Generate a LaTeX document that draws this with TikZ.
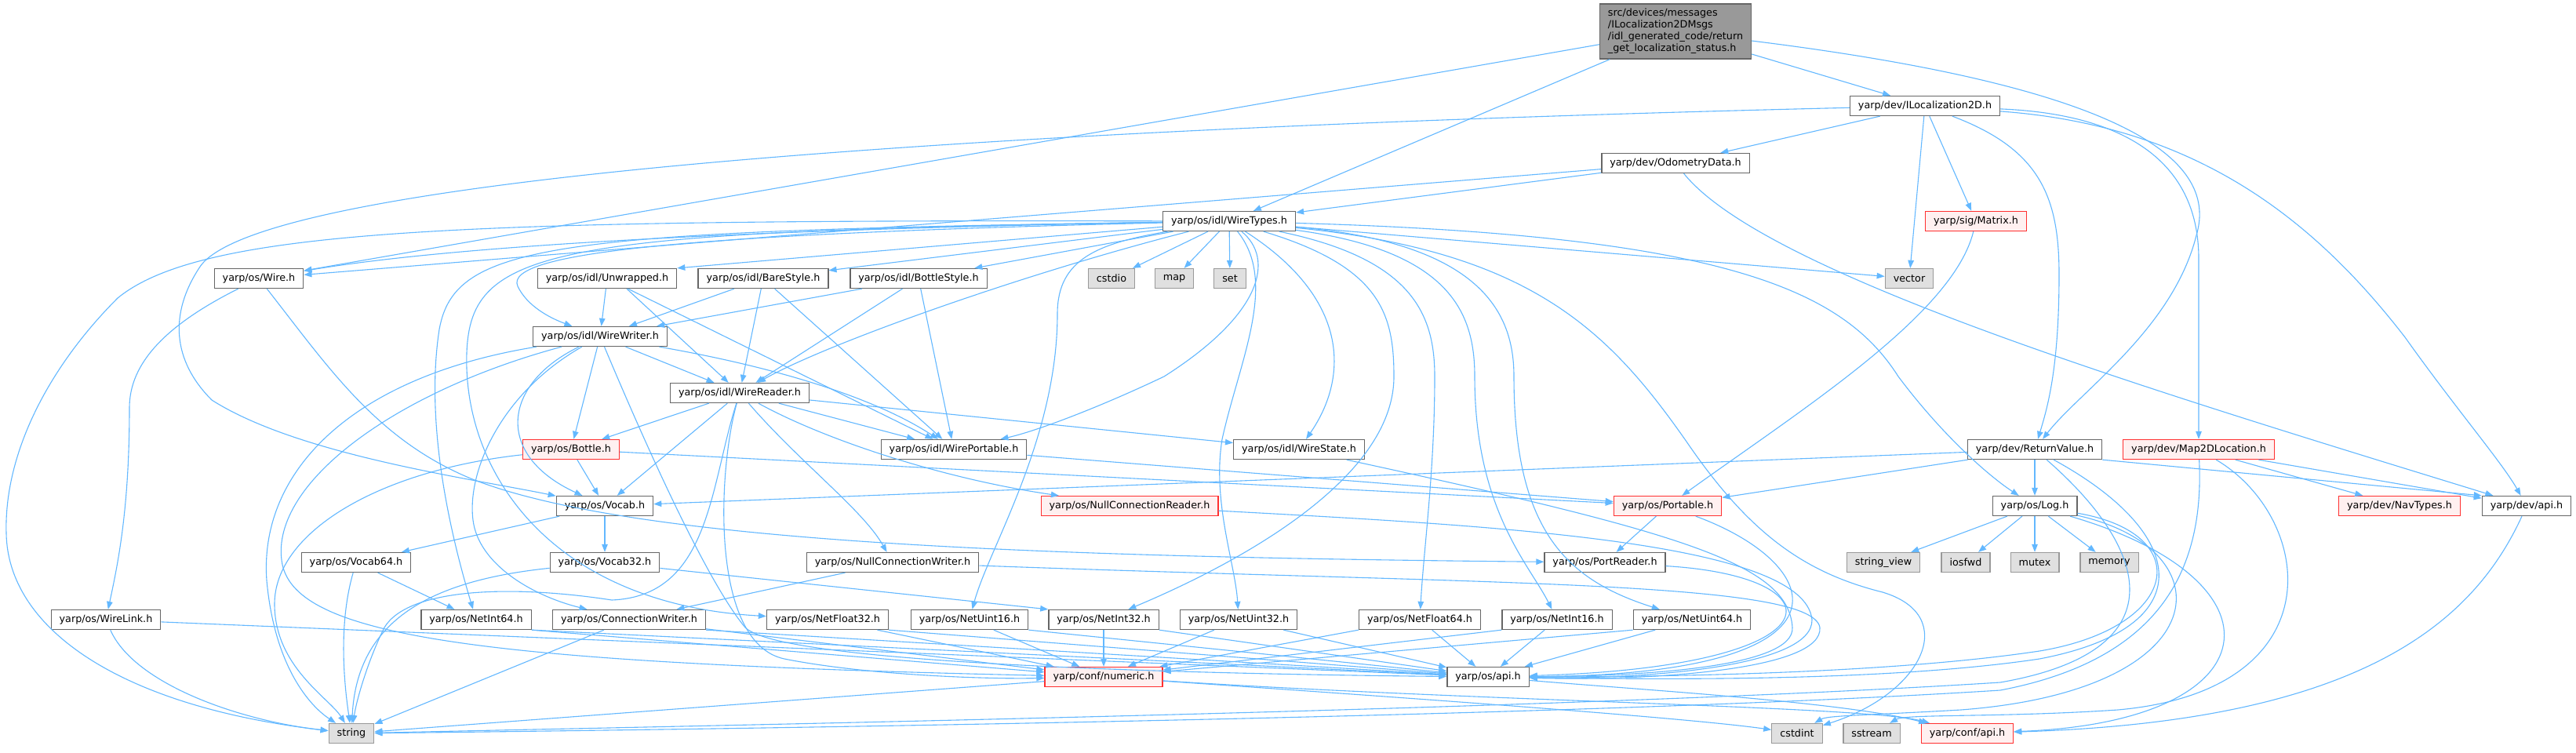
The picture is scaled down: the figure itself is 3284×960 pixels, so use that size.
\documentclass[tikz,border=0pt]{standalone}
\usepackage{fontspec}
\setmainfont{DejaVu Sans}
\usetikzlibrary{arrows.meta,calc}
\definecolor{edgec}{HTML}{63B8FF}
\definecolor{bord}{HTML}{666666}
\definecolor{redb}{HTML}{FF3030}
\definecolor{redf}{HTML}{FFF0F0}
\definecolor{greyf}{HTML}{E0E0E0}
\definecolor{greyb}{HTML}{999999}
\definecolor{rootf}{HTML}{999999}
\newcommand\nodefs{\fontsize{12.75}{15}\selectfont}
\tikzset{
  box/.style={draw=bord, fill=white, line width=1.3pt, minimum height=25pt, inner xsep=10.5pt, inner ysep=0pt, font=\nodefs, text=black},
  redbox/.style={box, draw=redb, fill=redf},
  leaf/.style={box, draw=greyb, fill=greyf},
  rootbox/.style={box, fill=rootf, align=left, minimum height=70pt},
  e/.style={draw=edgec, line width=1.1pt, -{Triangle[length=10pt,width=7.5pt]}}
}
\begin{document}
\begin{tikzpicture}[x=1pt,y=1pt]
\useasboundingbox[fill=white] (0,0) rectangle (3284,-960);
% nodes
\node[rootbox] (R) at (2136,-40) {src/devices/messages\\/ILocalization2DMsgs\\/idl\_generated\_code/return\\\_get\_localization\_status.h};
\node[box] (ILoc) at (2454,-135) {yarp/dev/ILocalization2D.h};
\node[box] (Odo) at (2136,-208) {yarp/dev/OdometryData.h};
\node[box] (WT) at (1567,-282) {yarp/os/idl/WireTypes.h};
\node[redbox] (Matrix) at (2519,-282) {yarp/sig/Matrix.h};
\node[box] (Wire) at (330,-355) {yarp/os/Wire.h};
\node[box] (Unwr) at (774,-355) {yarp/os/idl/Unwrapped.h};
\node[box] (Bare) at (973,-355) {yarp/os/idl/BareStyle.h};
\node[box] (BotS) at (1171,-355) {yarp/os/idl/BottleStyle.h};
\node[leaf] (cstdio) at (1417,-355) {cstdio};
\node[leaf] (map) at (1497,-355) {map};
\node[leaf] (set) at (1568,-355) {set};
\node[leaf] (vector) at (2434,-355) {vector};
\node[box] (WW) at (765,-429) {yarp/os/idl/WireWriter.h};
\node[box] (WR) at (943,-501) {yarp/os/idl/WireReader.h};
\node[redbox] (Bottle) at (728,-573) {yarp/os/Bottle.h};
\node[box] (WP) at (1216,-573) {yarp/os/idl/WirePortable.h};
\node[box] (WS) at (1656,-573) {yarp/os/idl/WireState.h};
\node[box] (RV) at (2594,-573) {yarp/dev/ReturnValue.h};
\node[redbox] (Map2D) at (2803,-573) {yarp/dev/Map2DLocation.h};
\node[box] (Vocab) at (771,-645) {yarp/os/Vocab.h};
\node[redbox] (NCR) at (1440,-645) {yarp/os/NullConnectionReader.h};
\node[redbox] (Portable) at (2126,-645) {yarp/os/Portable.h};
\node[box] (Log) at (2594,-645) {yarp/os/Log.h};
\node[redbox] (NavT) at (3059,-645) {yarp/dev/NavTypes.h};
\node[box] (devapi) at (3221,-645) {yarp/dev/api.h};
\node[box] (Voc64) at (454,-717) {yarp/os/Vocab64.h};
\node[box] (Voc32) at (771,-717) {yarp/os/Vocab32.h};
\node[box] (NCW) at (1138,-717) {yarp/os/NullConnectionWriter.h};
\node[box] (PortReader) at (2046,-717) {yarp/os/PortReader.h};
\node[leaf] (strview) at (2401,-717) {string\_view};
\node[leaf] (iosfwd) at (2506,-717) {iosfwd};
\node[leaf] (mutex) at (2594,-717) {mutex};
\node[leaf] (memory) at (2689,-717) {memory};
\node[box] (WireLink) at (135,-790) {yarp/os/WireLink.h};
\node[box] (NI64) at (607,-790) {yarp/os/NetInt64.h};
\node[box] (CW) at (802,-790) {yarp/os/ConnectionWriter.h};
\node[box] (NF32) at (1055,-790) {yarp/os/NetFloat32.h};
\node[box] (NU16) at (1236,-790) {yarp/os/NetUint16.h};
\node[box] (NI32) at (1407,-790) {yarp/os/NetInt32.h};
\node[box] (NU32) at (1579,-790) {yarp/os/NetUint32.h};
\node[box] (NF64) at (1810,-790) {yarp/os/NetFloat64.h};
\node[box] (NI16) at (1985,-790) {yarp/os/NetInt16.h};
\node[box] (NU64) at (2157,-790) {yarp/os/NetUint64.h};
\node[redbox] (numeric) at (1407,-863) {yarp/conf/numeric.h};
\node[box] (osapi) at (1897,-863) {yarp/os/api.h};
\node[leaf] (string) at (448,-935) {string};
\node[leaf] (cstdint) at (2291,-935) {cstdint};
\node[leaf] (sstream) at (2386,-935) {sstream};
\node[redbox] (confapi) at (2508,-935) {yarp/conf/api.h};
% edges: root
\draw[e] (R) -- (Wire);
\draw[e] (R) -- (WT);
\draw[e] (R) -- (ILoc);
\draw[e] (R) .. controls (2700,-110) and (2830,-200) .. (2800,-300) .. controls (2770,-420) and (2650,-500) .. (RV);
% ILocalization2D
\draw[e] (ILoc) .. controls (1200,-165) and (330,-230) .. (255,-340) .. controls (215,-400) and (220,-460) .. (270,-510) .. controls (380,-580) and (600,-610) .. (Vocab);
\draw[e] (ILoc) -- (Odo);
\draw[e] (ILoc) -- (vector);
\draw[e] (ILoc) -- (Matrix);
\draw[e] (ILoc) .. controls (2600,-190) and (2625,-250) .. (2625,-350) .. controls (2625,-470) and (2610,-520) .. (RV);
\draw[e] (ILoc) .. controls (2700,-145) and (2803,-200) .. (2803,-330) -- (Map2D);
\draw[e] (ILoc) .. controls (2800,-160) and (2950,-280) .. (3066,-430) .. controls (3130,-520) and (3190,-590) .. (devapi);
% OdometryData
\draw[e] (Odo) -- (WT);
\draw[e] (Odo) -- (Wire);
\draw[e] (Odo) .. controls (2250,-350) and (2750,-500) .. (devapi);
% WireTypes
\draw[e] (WT) .. controls (1000,-292) and (600,-310) .. (Wire);
\draw[e] (WT) -- (Unwr.north east);
\draw[e] (WT) -- (Bare);
\draw[e] (WT) -- (BotS);
\draw[e] (WT) .. controls (900,-298) and (640,-320) .. (660,-365) .. controls (672,-390) and (700,-405) .. (WW);
\draw[e] (WT) .. controls (1300,-350) and (1050,-440) .. (WR);
\draw[e] (WT) .. controls (1625,-330) and (1610,-400) .. (1484,-480) .. controls (1400,-520) and (1320,-550) .. (WP);
\draw[e] (WT) .. controls (1720,-380) and (1720,-480) .. (WS);
\draw[e] (WT) -- (cstdio);
\draw[e] (WT) -- (map);
\draw[e] (WT) -- (set);
\draw[e] (WT) -- (vector);
\draw[e] (WT) .. controls (2200,-300) and (2350,-370) .. (2420,-480) .. controls (2480,-560) and (2540,-610) .. (Log);
\draw[e] (WT) .. controls (600,-280) and (260,-290) .. (150,-380) .. controls (60,-470) and (5,-580) .. (8,-680) .. controls (10,-800) and (150,-900) .. (string);
\draw[e] (WT) .. controls (700,-295) and (580,-310) .. (560,-420) .. controls (540,-550) and (580,-700) .. (NI64);
\draw[e] (WT) .. controls (700,-296) and (600,-315) .. (595,-450) .. controls (590,-600) and (700,-770) .. (NF32);
\draw[e] (WT) .. controls (1400,-310) and (1348,-330) .. (1348,-400) .. controls (1348,-560) and (1260,-700) .. (NU16);
\draw[e] (WT) .. controls (1630,-360) and (1580,-460) .. (1558,-560) .. controls (1545,-640) and (1575,-720) .. (NU32);
\draw[e] (WT) .. controls (1760,-340) and (1777,-400) .. (1777,-480) .. controls (1777,-620) and (1550,-730) .. (NI32);
\draw[e] (WT) .. controls (1800,-330) and (1829,-400) .. (1829,-480) .. controls (1829,-600) and (1815,-700) .. (NF64);
\draw[e] (WT) .. controls (1850,-320) and (1880,-400) .. (1880,-480) .. controls (1880,-650) and (1950,-720) .. (NI16);
\draw[e] (WT) .. controls (1890,-310) and (1930,-400) .. (1930,-480) .. controls (1930,-680) and (2000,-740) .. (NU64);
\draw[e] (WT) .. controls (1950,-320) and (2050,-420) .. (2150,-563) .. controls (2230,-680) and (2300,-730) .. (2400,-755) .. controls (2500,-785) and (2450,-885) .. (cstdint);
% Wire
\draw[e] (Wire) .. controls (200,-420) and (165,-470) .. (165,-520) .. controls (165,-650) and (150,-720) .. (WireLink);
\draw[e] (Wire) .. controls (420,-470) and (480,-560) .. (600,-610) .. controls (800,-690) and (1300,-710) .. (PortReader);
% Unwrapped, BareStyle, BottleStyle
\draw[e] (Unwr) -- (WW);
\draw[e] ($(Unwr.south)+(25,0)$) -- (WR);
\draw[e] (Unwr) -- (WP);
\draw[e] (Bare) -- (WW);
\draw[e] (Bare) -- (WR);
\draw[e] (Bare) -- (WP);
\draw[e] (BotS) -- (WW);
\draw[e] (BotS) -- (WR);
\draw[e] (BotS) -- (WP);
% WireWriter
\draw[e] (WW) -- (Bottle);
\draw[e] (WW) -- (WR);
\draw[e] (WW) .. controls (1000,-470) and (1120,-510) .. (WP);
\draw[e] (WW) .. controls (640,-490) and (630,-580) .. (Vocab);
\draw[e] (WW) .. controls (450,-480) and (330,-600) .. (340,-740) .. controls (350,-850) and (395,-900) .. (string);
\draw[e] (WW) .. controls (500,-500) and (340,-620) .. (360,-720) .. controls (380,-810) and (600,-845) .. (numeric);
\draw[e] (WW) .. controls (640,-500) and (595,-600) .. (603,-663) .. controls (610,-720) and (680,-760) .. (CW);
\draw[e] (WW) .. controls (820,-560) and (900,-740) .. (950,-800) .. controls (1000,-850) and (1600,-860) .. (osapi);
% WireReader
\draw[e] (WR) -- (Bottle);
\draw[e] (WR) -- (Vocab);
\draw[e] (WR) -- (WP);
\draw[e] (WR) -- (WS);
\draw[e] (WR) .. controls (1050,-560) and (1200,-610) .. (NCR);
\draw[e] (WR) .. controls (1020,-590) and (1100,-650) .. (NCW);
\draw[e] (WR) .. controls (905,-620) and (905,-760) .. (780,-765) .. controls (650,-745) and (520,-750) .. (490,-800) .. controls (470,-840) and (455,-890) .. (string);
\draw[e] (WR) .. controls (915,-600) and (905,-820) .. (1000,-840) .. controls (1100,-860) and (1250,-866) .. (numeric);
% Bottle
\draw[e] (Bottle) -- (Vocab);
\draw[e] (Bottle) .. controls (480,-600) and (350,-680) .. (350,-770) .. controls (350,-850) and (420,-890) .. (string);
\draw[e] (Bottle) -- (Portable);
% Vocab family
\draw[e] (Vocab) -- (Voc64);
\draw[e] (Vocab) -- (Voc32);
\draw[e] (Voc64) .. controls (430,-800) and (440,-880) .. (string);
\draw[e] (Voc64) -- (NI64);
\draw[e] (Voc32) .. controls (550,-740) and (455,-790) .. (string);
\draw[e] (Voc32) -- (NI32.north west);
% WireLink
\draw[e] (WireLink) .. controls (170,-870) and (300,-918) .. (string);
\draw[e] (WireLink) -- (osapi);
% Net types
\draw[e] (NI64.south east) -- (numeric);
\draw[e] (NI64.south east) -- (osapi);
\draw[e] (CW) -- (string);
\draw[e] (CW) -- (numeric);
\draw[e] (CW.south east) -- (osapi);
\draw[e] (NF32) -- (numeric);
\draw[e] (NF32.south east) -- (osapi);
\draw[e] (NU16) -- (numeric);
\draw[e] (NU16.south east) -- (osapi);
\draw[e] (NI32) -- (numeric);
\draw[e] (NI32.south east) -- (osapi);
\draw[e] (NU32) -- (numeric);
\draw[e] (NU32) -- (osapi);
\draw[e] (NF64.south west) -- (numeric);
\draw[e] (NF64) -- (osapi);
\draw[e] (NI16.south west) -- (numeric);
\draw[e] (NI16) -- (osapi);
\draw[e] (NU64.south west) -- (numeric);
\draw[e] (NU64) -- (osapi);
% WirePortable, WireState, Null*
\draw[e] (WP) -- (Portable);
\draw[e] (WS) .. controls (2150,-680) and (2280,-720) .. (2285,-800) .. controls (2288,-850) and (2100,-862) .. (osapi);
\draw[e] (NCR) .. controls (1900,-670) and (2300,-690) .. (2310,-790) .. controls (2312,-850) and (2100,-866) .. (osapi);
\draw[e] (NCW) .. controls (1900,-745) and (2310,-740) .. (2320,-800) .. controls (2325,-855) and (2100,-868) .. (osapi);
\draw[e] (NCW) -- (CW);
% Portable, PortReader, Matrix
\draw[e] (Matrix) .. controls (2490,-400) and (2300,-520) .. (Portable);
\draw[e] (Portable) -- (PortReader);
\draw[e] (Portable) .. controls (2330,-720) and (2380,-860) .. (osapi);
\draw[e] (PortReader) .. controls (2350,-735) and (2350,-850) .. (osapi);
% ReturnValue
\draw[e] (RV) -- (Vocab);
\draw[e] (RV) -- (Portable);
\draw[e] (RV) -- (Log);
\draw[e] (RV.south east) -- (devapi.north west);
\draw[e] (RV) .. controls (2790,-680) and (2810,-800) .. (2600,-840) .. controls (2400,-870) and (2100,-866) .. (osapi);
\draw[e] (RV) .. controls (2740,-700) and (2780,-830) .. (2550,-870) .. controls (2000,-905) and (900,-925) .. (string);
% Log
\draw[e] (Log) -- (strview);
\draw[e] (Log) -- (iosfwd);
\draw[e] (Log) -- (mutex);
\draw[e] (Log) -- (memory);
\draw[e] (Log) .. controls (2800,-680) and (2780,-800) .. (2600,-830) .. controls (2400,-860) and (2100,-863) .. (osapi);
\draw[e] (Log) .. controls (2840,-700) and (2830,-880) .. (2500,-905) .. controls (2380,-912) and (2330,-912) .. (cstdint);
\draw[e] (Log) .. controls (2920,-740) and (2900,-920) .. (confapi);
% Map2DLocation
\draw[e] (Map2D) -- (NavT);
\draw[e] (Map2D) -- (devapi);
\draw[e] (Map2D) .. controls (2810,-720) and (2760,-840) .. (2550,-880) .. controls (2000,-915) and (900,-930) .. (string);
\draw[e] (Map2D) .. controls (2950,-660) and (2980,-880) .. (2700,-905) .. controls (2550,-915) and (2430,-910) .. (sstream);
% dev/api, os/api, numeric
\draw[e] (devapi) .. controls (3150,-800) and (3000,-920) .. (confapi);
\draw[e] (osapi) .. controls (2100,-880) and (2350,-895) .. (confapi);
\draw[e] (numeric) -- (string);
\draw[e] (numeric) .. controls (1800,-890) and (2150,-915) .. (cstdint);
\draw[e] (numeric) .. controls (1900,-895) and (2380,-900) .. (confapi);
\end{tikzpicture}
\end{document}
